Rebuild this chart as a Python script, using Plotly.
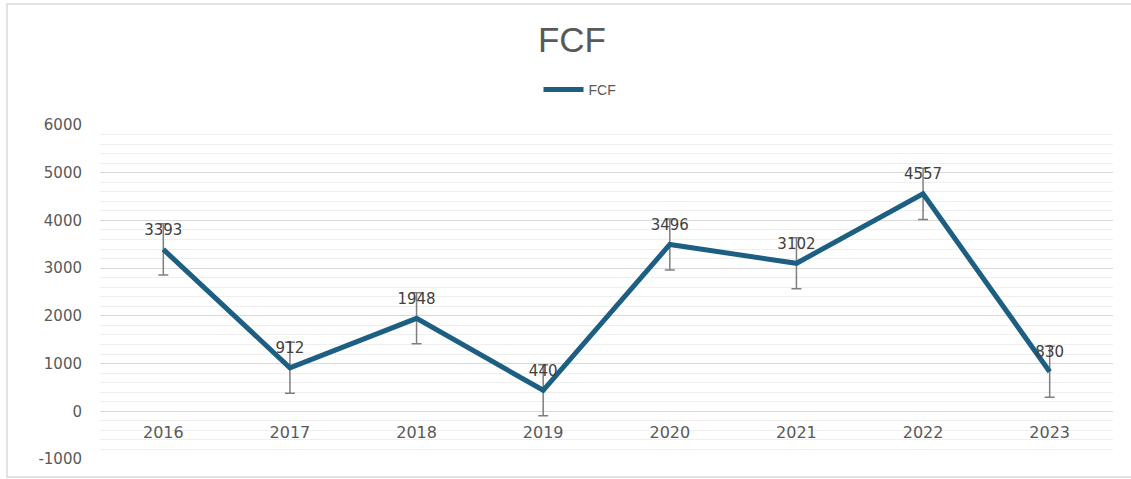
import plotly.graph_objects as go

years = ["2016", "2017", "2018", "2019", "2020", "2021", "2022", "2023"]
fcf = [3393, 912, 1948, 440, 3496, 3102, 4557, 830]
fcf_err = [535, 535, 535, 535, 535, 535, 535, 535]
y_ticks = [-1000, 0, 1000, 2000, 3000, 4000, 5000, 6000]
y_tick_labels = ["-1000", "0", "1000", "2000", "3000", "4000", "5000", "6000"]

W, H = 1131, 479
L, R, T, B = 100, 18, 124, 19

fig = go.Figure()
fig.add_trace(go.Scatter(
    x=years, y=fcf, name="FCF", mode="lines+markers+text",
    line=dict(color="#1c5f82", width=5),
    marker=dict(size=16, color="rgba(0,0,0,0)"),
    text=[str(v) for v in fcf], textposition="top center",
    textfont=dict(family="DejaVu Sans", size=15, color="#404040"),
    error_y=dict(type="data", array=fcf_err, visible=True,
                 color="#7f7f7f", thickness=1.5, width=5),
    cliponaxis=False,
))

fig.update_layout(
    width=W, height=H,
    margin=dict(l=L, r=R, t=T, b=B, autoexpand=False),
    paper_bgcolor="white", plot_bgcolor="white",
    title=dict(text="FCF", x=572 / W, xanchor="center", y=1 - 40 / H, yanchor="middle",
               font=dict(family="Liberation Sans, Arial", size=35, color="#595959")),
    showlegend=True,
    legend=dict(orientation="h", xref="container", x=580 / W, xanchor="center", yref="container",
                y=1 - 90 / H, yanchor="middle",
                font=dict(family="Liberation Sans, Arial", size=14, color="#595959"),
                itemwidth=40),
    xaxis=dict(type="category", anchor="free", position=(1000 + 21) / 7042, showline=False,
               showgrid=False, ticks="", range=[-0.5, 7.5], automargin=False,
               ticklabelstandoff=10,
               tickfont=dict(family="DejaVu Sans", size=16, color="#595959")),
    yaxis=dict(range=[-1021, 6021], tickvals=y_ticks, ticktext=y_tick_labels,
               showgrid=True, gridcolor="#d9d9d9",
               gridwidth=1.3, zeroline=False, ticks="", showline=False,
               ticklabelstandoff=17, automargin=False,
               tickfont=dict(family="DejaVu Sans", size=15, color="#595959"),
               minor=dict(dtick=200, showgrid=True, gridcolor="#efefef", gridwidth=1)),
)

# outer chart frame
pw = W - L - R
ph = H - T - B
fig.add_shape(type="rect", xref="paper", yref="paper",
              x0=(7 - L) / pw, x1=(W + 5 - L) / pw,
              y0=-(B - 2) / ph,
              y1=1 + (T - 4) / ph,
              line=dict(color="#d9d9d9", width=1.5), fillcolor="rgba(0,0,0,0)", layer="below")

fig.write_html("out.html", config={"displayModeBar": False},
               post_script="document.body.style.margin='0';document.body.style.overflow='hidden';")
